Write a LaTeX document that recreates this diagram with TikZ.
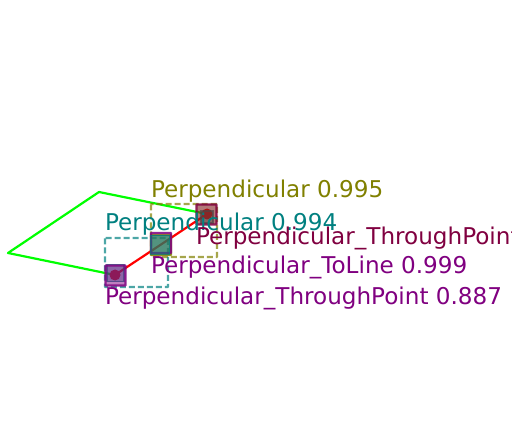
\documentclass[tikz,border=0pt]{standalone}
\usepackage{fontspec}
\setmainfont{DejaVu Sans}
\definecolor{cgreen}{RGB}{0,255,0}
\definecolor{cred}{RGB}{255,0,0}
\definecolor{colive}{RGB}{128,128,0}
\definecolor{cteal}{RGB}{0,128,128}
\definecolor{cpurple}{RGB}{128,0,128}
\definecolor{cmaroon}{RGB}{128,0,64}
\definecolor{cbrown}{RGB}{128,30,30}
\tikzset{
  lab/.style={anchor=base west,inner sep=0pt,outer sep=0pt,font=\fontsize{23.1}{25}\selectfont},
  sq/.style={draw=#1,fill=#1,fill opacity=.5,draw opacity=.85,line width=2.2pt,minimum size=20pt,inner sep=0pt,outer sep=0pt,rectangle,rounded corners=.5pt},
  tsq/.style={draw=cteal,fill=cteal,fill opacity=.4,draw opacity=.7,line width=1.5pt,inner sep=0pt,outer sep=0pt,rectangle},
  pt/.style={circle,fill=#1,inner sep=0pt,minimum size=11pt,outer sep=0pt},
  dbox/.style={draw=#1,draw opacity=.7,dash pattern=on 6pt off 3pt,line width=2.2pt,rounded corners=.5pt},
  gline/.style={draw=cgreen,line width=2.2pt,line join=round},
  rline/.style={draw=cred,line width=2.2pt}
}
\begin{document}
\begin{tikzpicture}[x=1pt,y=-1pt]
\useasboundingbox (0,0) rectangle (512,441);
\coordinate (left) at (8,253);
\coordinate (top) at (99,192);
\coordinate (A) at (207,214);
\coordinate (B) at (160,244);
\coordinate (C) at (115,275);
\draw[gline] (C) -- (left) -- (top) -- (A);
\draw[rline] (C) -- (A);
\draw[dbox=colive] (151,204) rectangle (217,257);
\draw[dbox=cteal] (105,238) rectangle (168,287);
\node[pt=cred] (dA) at (A) {};
\node[pt=cred] (dC) at (C) {};
\node[tsq,minimum size=12pt] (sA2) at (207,217) {};
\node[sq=cmaroon,fill=cbrown,fill opacity=.6] (sA) at (206.5,214.5) {};
\node[sq=colive] (sB1) at (161,245) {};
\node[sq=cpurple,fill opacity=.1] (sB2) at (161,243) {};
\node[tsq,fill opacity=.55,minimum size=19pt] (sB3) at (160,245) {};
\node[tsq,minimum size=17pt] (sC2) at (115.5,273) {};
\node[sq=cpurple] (sC) at (115.5,275.5) {};
\node[lab,text=colive] (l1) at (151,197.5) {Perpendicular 0.995};
\node[lab,text=cteal] (l2) at (105,230) {Perpendicular 0.994};
\node[lab,text=cmaroon] (l3) at (196,244) {Perpendicular\_ThroughPoint};
\node[lab,text=cpurple] (l4) at (151,273.5) {Perpendicular\_ToLine 0.999};
\node[lab,text=cpurple] (l5) at (105,305) {Perpendicular\_ThroughPoint 0.887};
\end{tikzpicture}
\end{document}
